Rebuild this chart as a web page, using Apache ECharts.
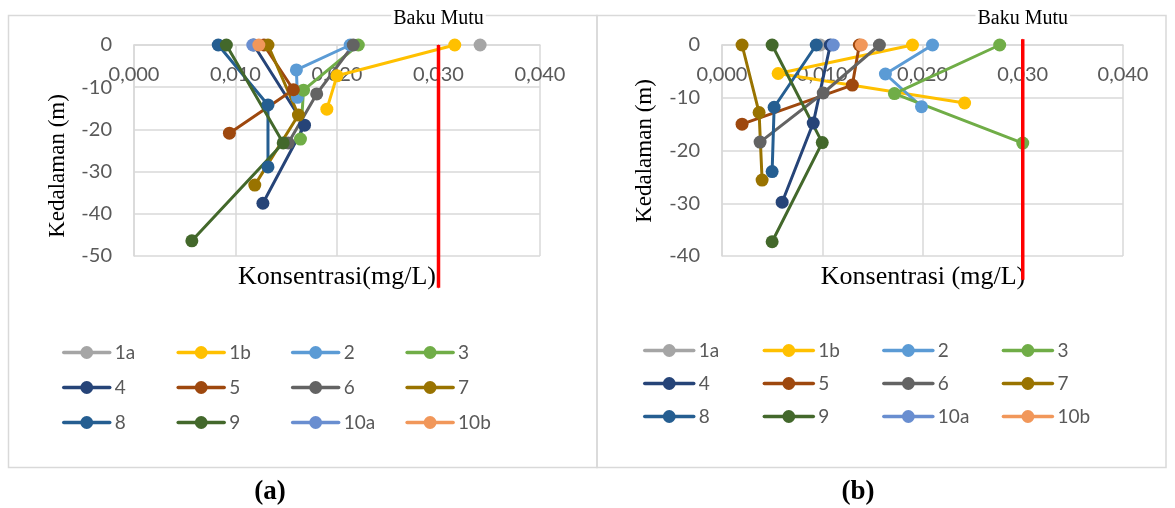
<!DOCTYPE html>
<html>
<head>
<meta charset="utf-8">
<script src="https://cdn.jsdelivr.net/npm/echarts@6/dist/echarts.min.js"></script>
<style>
html,body{margin:0;padding:0;background:#fff;}
#c{width:1175px;height:508px;}
</style>
</head>
<body>
<div id="c"></div>
<script>
// ---------- data ----------
const stations = ['1a','1b','2','3','4','5','6','7','8','9','10a','10b'];
const colors = ['#A5A5A5','#FFC000','#5B9BD5','#70AD47','#264478','#9E480E','#636363','#997300','#255E91','#43682B','#698ED0','#F1975A'];
const xTicks = [0, 0.01, 0.02, 0.03, 0.04];
const depthTicksA = [0, -10, -20, -30, -40, -50];
const depthTicksB = [0, -10, -20, -30, -40];
const bakuMutu = 0.03;

// chart (a): [konsentrasi mg/L, kedalaman m]
const a_1a  = [[0.0341, 0]];
const a_1b  = [[0.0316, 0], [0.0200, -7.3], [0.0190, -15.2]];
const a_2   = [[0.0213, 0], [0.0160, -5.9], [0.0161, -12.4]];
const a_3   = [[0.0221, 0], [0.0167, -10.7], [0.0164, -22.3]];
const a_4   = [[0.0118, 0], [0.0168, -19.0], [0.0127, -37.5]];
const a_5   = [[0.0128, 0], [0.0157, -10.6], [0.0094, -20.9]];
const a_6   = [[0.0216, 0], [0.0180, -11.6], [0.0152, -23.2]];
const a_7   = [[0.0132, 0], [0.0162, -16.6], [0.0119, -33.2]];
const a_8   = [[0.0083, 0], [0.0132, -14.2], [0.0132, -28.9]];
const a_9   = [[0.0091, 0], [0.0147, -23.2], [0.0057, -46.4]];
const a_10a = [[0.0117, 0]];
const a_10b = [[0.0123, 0]];
const a_baku = [[bakuMutu, 0], [bakuMutu, -57.5]];

// chart (b)
const b_1a  = [[0.0098, 0]];
const b_1b  = [[0.0190, 0], [0.0056, -5.4], [0.0242, -11.0]];
const b_2   = [[0.0210, 0], [0.0163, -5.5], [0.0199, -11.7]];
const b_3   = [[0.0277, 0], [0.0172, -9.2], [0.0300, -18.6]];
const b_4   = [[0.0108, 0], [0.0091, -14.8], [0.0060, -29.8]];
const b_5   = [[0.0137, 0], [0.0130, -7.6], [0.0020, -15.0]];
const b_6   = [[0.0157, 0], [0.0101, -9.1], [0.0038, -18.4]];
const b_7   = [[0.0020, 0], [0.0037, -12.8], [0.0040, -25.6]];
const b_8   = [[0.0094, 0], [0.0052, -11.8], [0.0050, -24.0]];
const b_9   = [[0.0050, 0], [0.0100, -18.5], [0.0050, -37.3]];
const b_10a = [[0.0111, 0]];
const b_10b = [[0.0139, 0]];
const b_baku = [[bakuMutu, 1.1], [bakuMutu, -44.5]];

const dataA = [a_1a,a_1b,a_2,a_3,a_4,a_5,a_6,a_7,a_8,a_9,a_10a,a_10b];
const dataB = [b_1a,b_1b,b_2,b_3,b_4,b_5,b_6,b_7,b_8,b_9,b_10a,b_10b];

// ---------- build ----------
const grey = '#D9D9D9';
const tickColor = '#595959';
const sans = 'Lato, "Liberation Sans", sans-serif';
const serif = '"Liberation Serif", "DejaVu Serif", serif';

function xAxis(grid){
  return {
    type:'value', gridIndex:grid, min:xTicks[0], max:xTicks[xTicks.length-1], interval:0.01,
    position:'top',
    axisLine:{show:true, onZero:false, lineStyle:{color:grey, width:1.5}},
    axisTick:{show:false},
    splitLine:{show:true, lineStyle:{color:grey, width:1.5}},
    axisLabel:{inside:true, margin:20, color:tickColor, fontFamily:sans, fontSize:20,
      formatter:v=>v.toFixed(3).replace('.',',')}
  };
}
function yAxis(grid, ticks){
  return {
    type:'value', gridIndex:grid, min:ticks[ticks.length-1], max:ticks[0], interval:10,
    axisLine:{show:true, onZero:false, lineStyle:{color:grey, width:1.5}},
    axisTick:{show:false},
    splitLine:{show:true, lineStyle:{color:grey, width:1.5}},
    axisLabel:{margin:22, color:tickColor, fontFamily:sans, fontSize:20}
  };
}

const series = [];
function addSeries(data, gi){
  data.forEach((d,i)=>{
    series.push({
      name:stations[i], type:'line', xAxisIndex:gi, yAxisIndex:gi, data:d,
      symbol:'circle', symbolSize:13, showSymbol:true,
      color:colors[i],
      lineStyle:{width:3, color:colors[i], cap:'round', join:'round'},
      itemStyle:{color:colors[i]},
      emphasis:{disabled:true}, animation:false
    });
  });
}
addSeries(dataA, 0);
addSeries(dataB, 1);

function bakuSeries(d, gi, dist){
  return {
    name:'Baku Mutu', type:'line', xAxisIndex:gi, yAxisIndex:gi, clip:false,
    symbol:'circle', symbolSize:1, showSymbol:true,
    lineStyle:{width:3.5, color:'#FF0000'}, color:'#FF0000', itemStyle:{color:'#FF0000'},
    data:[{value:d[0], label:{show:true, position:'top', distance:dist, formatter:'Baku Mutu',
            color:'#000', fontFamily:serif, fontSize:20, backgroundColor:'#fff', padding:[0,2]}},
          {value:d[1], label:{show:false}}],
    label:{show:false},
    emphasis:{disabled:true}, animation:false, z:5
  };
}
series.push(bakuSeries(a_baku, 0, 16));
series.push(bakuSeries(b_baku, 1, 10));

function legend(left, top, iw, colW, rowH){
  return {
    data:stations, left:left, top:top, width:colW*4+40, orient:'horizontal', padding:0,
    itemWidth:iw, itemHeight:16, itemGap:0,
    lineStyle:{width:3.5},
    textStyle:{color:tickColor, fontFamily:sans, fontSize:19, width:colW-iw-5, lineHeight:rowH, height:rowH},
    selectedMode:false
  };
}

const option = {
  animation:false,
  backgroundColor:'#fff',
  grid:[
    {left:134, top:45, width:406, height:211, containLabel:false},
    {left:722, top:45, width:401, height:211, containLabel:false}
  ],
  xAxis:[xAxis(0), xAxis(1)],
  yAxis:[yAxis(0, depthTicksA), yAxis(1, depthTicksB)],
  legend:[legend(62, 335, 46, 112.7, 35), legend(643, 334, 49, 117.8, 33)],
  series:series,
  graphic:[
    {type:'rect', shape:{x:8.5, y:15.5, width:588.5, height:452}, style:{fill:null, stroke:grey, lineWidth:1.5}, z:-10},
    {type:'rect', shape:{x:597, y:15.5, width:569, height:452}, style:{fill:null, stroke:grey, lineWidth:1.5}, z:-10},
    {type:'text', x:58, y:166, rotation:Math.PI/2, style:{text:'Kedalaman (m)', font:'23px '+serif, fill:'#000', align:'center', verticalAlign:'middle'}},
    {type:'text', x:645, y:151, rotation:Math.PI/2, style:{text:'Kedalaman (m)', font:'23px '+serif, fill:'#000', align:'center', verticalAlign:'middle'}},
    {type:'text', x:337, y:277, style:{text:'Konsentrasi(mg/L)', font:'26px '+serif, fill:'#000', align:'center', verticalAlign:'middle'}},
    {type:'text', x:923, y:277, style:{text:'Konsentrasi (mg/L)', font:'26px '+serif, fill:'#000', align:'center', verticalAlign:'middle'}},
    {type:'text', x:270, y:492, style:{text:'(a)', font:'bold 27px '+serif, fill:'#000', align:'center', verticalAlign:'middle'}},
    {type:'text', x:858, y:492, style:{text:'(b)', font:'bold 27px '+serif, fill:'#000', align:'center', verticalAlign:'middle'}}
  ]
};

const chart = echarts.init(document.getElementById('c'), null, {renderer:'canvas'});
chart.setOption(option);
</script>
</body>
</html>
